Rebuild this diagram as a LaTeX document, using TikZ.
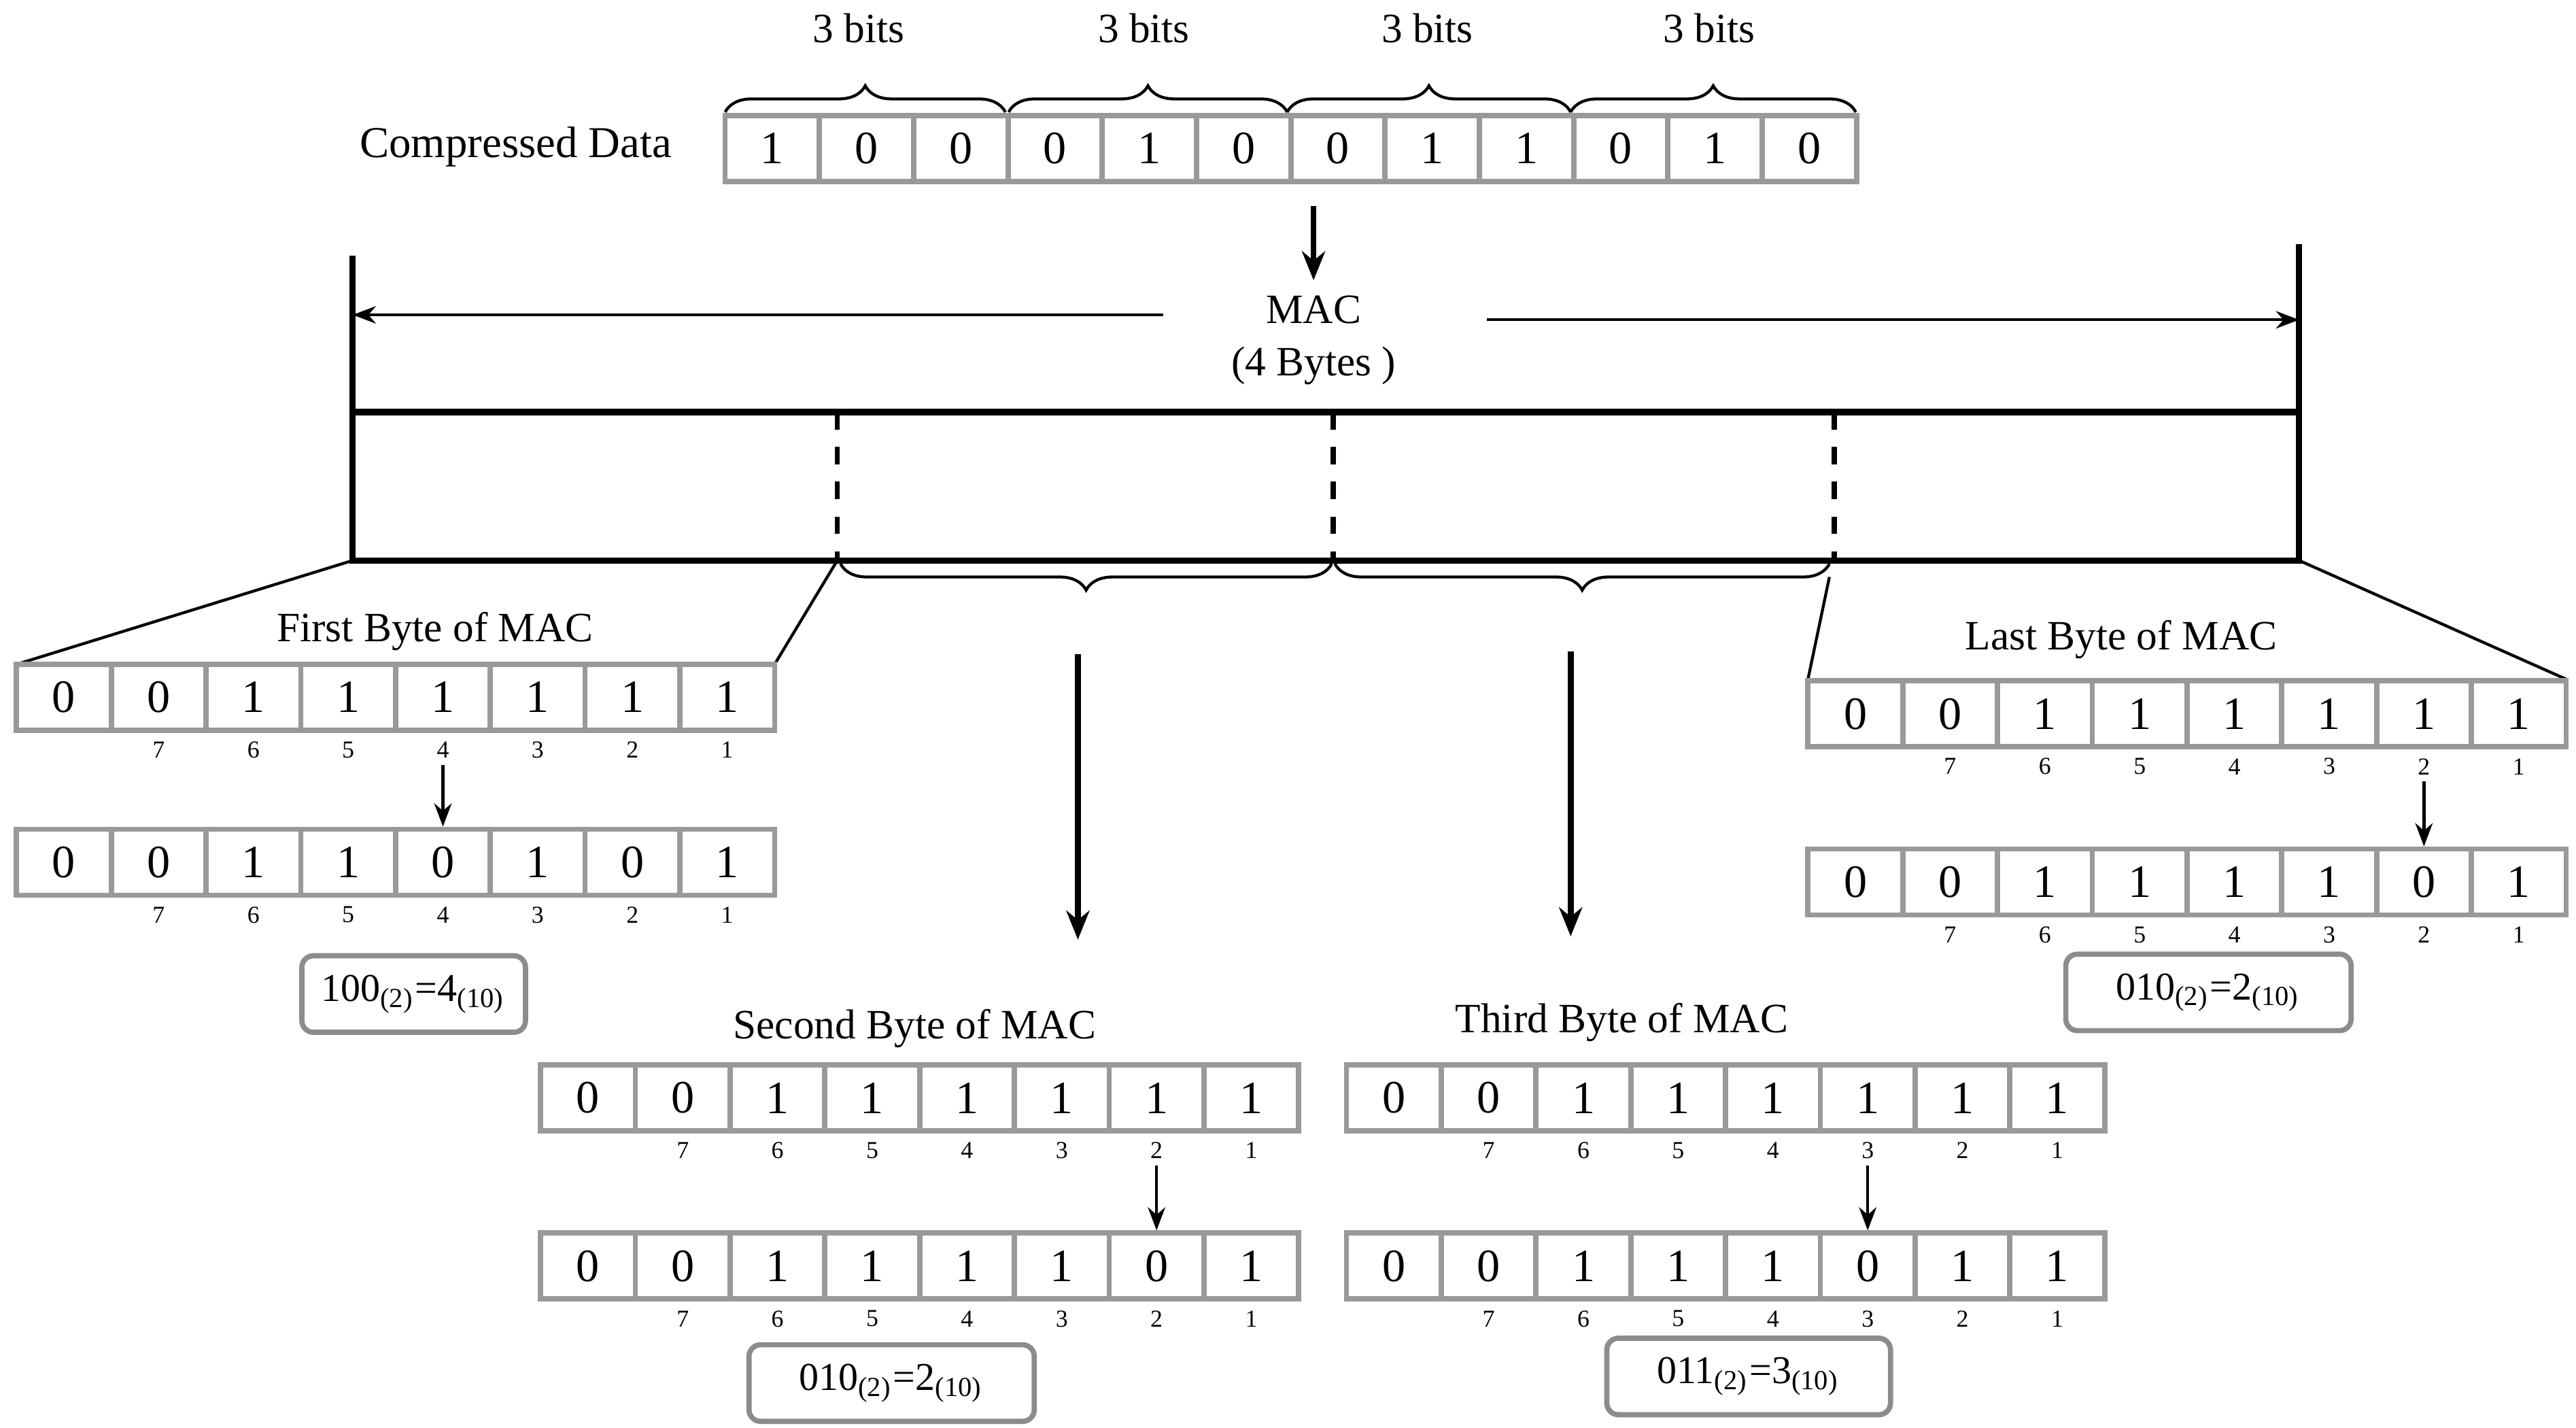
\documentclass[tikz,border=0pt]{standalone}
\usepackage{fontspec}
\setmainfont{Liberation Serif}
\usetikzlibrary{decorations.pathreplacing,arrows.meta}
\begin{document}
\begin{tikzpicture}[x=0.01cm,y=-0.01cm,
 cell/.style={draw=black!40,line width=0.9pt,minimum width=0.575cm,minimum height=0.4cm,inner sep=0,font=\fontsize{8}{9}\selectfont},
 bigcell/.style={cell,minimum width=0.572cm,minimum height=0.4cm},
 idx/.style={font=\fontsize{4.2}{5}\selectfont,inner sep=0},
 ttl/.style={font=\fontsize{7.2}{8}\selectfont,inner sep=0},
 res/.style={draw=black!45,line width=0.9pt,rounded corners=2pt,minimum width=#1,minimum height=0.42cm,font=\fontsize{6.8}{8}\selectfont},
 brc/.style={decorate,decoration={brace,amplitude=0.16cm},line width=0.5pt},
 arr/.style={-{Stealth[length=5pt,width=4pt]},line width=1pt},
 sarr/.style={-{Stealth[length=4pt,width=3pt]},line width=0.5pt}]
\useasboundingbox (0,0) rectangle (1563,866);
\newcommand\byterow[4]{%
 \foreach \d [count=\i] in {#4}{\node[cell] (#1-\i) at ({#2+57.5*\i-28.75},{#3+20}) {\d};}
 \foreach \i/\l in {2/7,3/6,4/5,5/4,6/3,7/2,8/1}{\node[idx] (#1-l\i) at ({#2+57.5*\i-28.75},{#3+52}) {\l};}}
% compressed data
\node[ttl,font=\fontsize{7.6}{9}\selectfont] (cd) at (313,89) {Compressed Data};
\foreach \d [count=\i] in {1,0,0,0,1,0,0,1,1,0,1,0}{\node[bigcell] (c\i) at ({440+57.2*\i-28.6},90) {\d};}
\foreach \a/\b/\m/\n in {440/610/521/1,612/781/694/2,781/953/866/3,953/1126/1037/4}{
 \draw[brc] (\a,68) -- (\b,68);
 \node[ttl] (bits\n) at (\m,17) {3 bits};}
\coordinate (t1) at (797,125); \coordinate (t2) at (797,170);
\draw[arr] (t1) -- (t2);
% MAC
\coordinate (vl1) at (214,155); \coordinate (vl2) at (214,340);
\coordinate (vr1) at (1395,148); \coordinate (vr2) at (1395,340);
\draw[line width=1.1pt] (vl1) -- (vl2); \draw[line width=1.1pt] (vr1) -- (vr2);
\node[ttl] (mac) at (797,188) {MAC};
\node[ttl] (mac2) at (797,222) {(4 Bytes )};
\coordinate (ma) at (706,191); \coordinate (mb) at (214,191);
\coordinate (mc) at (902,194); \coordinate (md) at (1395,194);
\draw[sarr] (ma) -- (mb); \draw[sarr] (mc) -- (md);
\draw[line width=1.1pt] (214,250) rectangle (1395,340);
\foreach \x in {508,809,1113}{\draw[dashed,line width=0.9pt] (\x,250) -- (\x,340);}
\draw[brc] (808,342) -- (510,342);
\draw[brc] (1110,342) -- (810,342);
\coordinate (a1) at (654,397); \coordinate (a2) at (654,570);
\coordinate (b1) at (953,395); \coordinate (b2) at (953,568);
\draw[arr] (a1) -- (a2); \draw[arr] (b1) -- (b2);
\draw[line width=0.5pt] (214,340) -- (10,403) (508,340) -- (470,403)
 (1110,350) -- (1097,412) (1395,340) -- (1557,412);
% first byte
\node[ttl] (t1b) at (264,383) {First Byte of MAC};
\byterow{f1}{10}{403}{0,0,1,1,1,1,1,1}
\byterow{f2}{10}{503}{0,0,1,1,0,1,0,1}
\draw[sarr] ([yshift=-1pt]f1-l5.south) -- (f2-5);
\node[res=1.28cm] (fr) at (251,603) {100\textsubscript{(2)}=4\textsubscript{(10)}};
% last byte
\node[ttl] (t4b) at (1287,388) {Last Byte of MAC};
\byterow{l1}{1097}{413}{0,0,1,1,1,1,1,1}
\byterow{l2}{1097}{515}{0,0,1,1,1,1,0,1}
\draw[sarr] ([yshift=-1pt]l1-l7.south) -- (l2-7);
\node[res=1.73cm] (lr) at (1340,602) {010\textsubscript{(2)}=2\textsubscript{(10)}};
% second byte
\node[ttl] (t2b) at (555,624) {Second Byte of MAC};
\byterow{s1}{328}{646}{0,0,1,1,1,1,1,1}
\byterow{s2}{328}{748}{0,0,1,1,1,1,0,1}
\draw[sarr] ([yshift=-1pt]s1-l7.south) -- (s2-7);
\node[res=1.73cm] (sr) at (541,839) {010\textsubscript{(2)}=2\textsubscript{(10)}};
% third byte
\node[ttl] (t3b) at (984,620) {Third Byte of MAC};
\byterow{h1}{817}{646}{0,0,1,1,1,1,1,1}
\byterow{h2}{817}{748}{0,0,1,1,1,0,1,1}
\draw[sarr] ([yshift=-1pt]h1-l6.south) -- (h2-6);
\node[res=1.72cm] (hr) at (1061,835) {011\textsubscript{(2)}=3\textsubscript{(10)}};
\end{tikzpicture}
\end{document}
